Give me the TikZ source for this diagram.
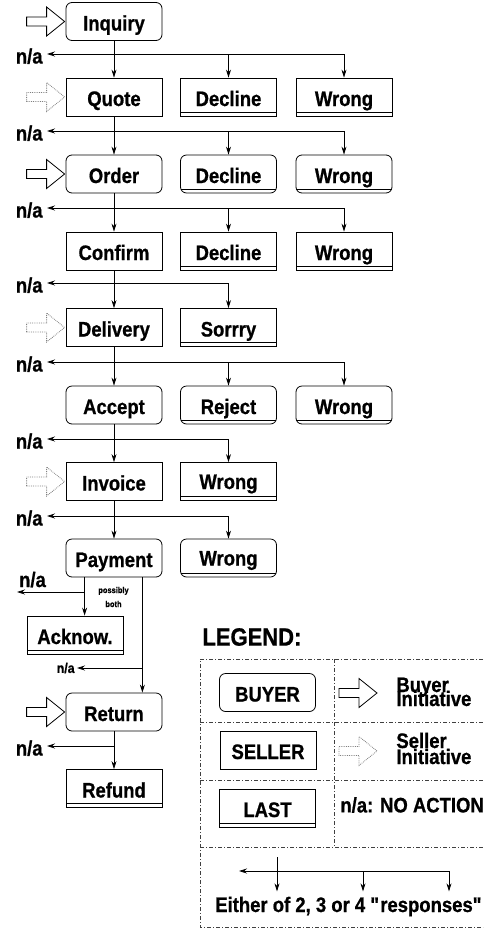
\documentclass[tikz,border=0pt]{standalone}
\usepackage{fontspec}
\setmainfont{Liberation Sans}[FakeStretch=0.88, BoldFeatures={FakeBold=0.8}]
\usetikzlibrary{positioning}
\usetikzlibrary{arrows.meta}
\tikzset{>={Stealth[length=8pt,width=5pt]}}
\tikzset{box/.style={draw, minimum width=96pt, minimum height=38pt, inner sep=0pt, text height=18pt, text depth=0pt, font=\bfseries\fontsize{21}{24}\selectfont}}
\tikzset{buyer/.style={box, rounded corners=6pt}}
\tikzset{seller/.style={box}}
\tikzset{last/.style={path picture={\draw ([yshift=4pt]path picture bounding box.south west) -- ([yshift=4pt]path picture bounding box.south east);}}}
\tikzset{na/.style={font=\bfseries\fontsize{21}{24}\selectfont, anchor=east, text height=19pt, text depth=0pt, inner xsep=4pt, inner ysep=0pt}}
\tikzset{nasmall/.style={font=\bfseries\fontsize{14}{16}\selectfont, anchor=east, inner xsep=2pt, inner ysep=0pt}}
\tikzset{legtext/.style={font=\bfseries\fontsize{21}{24}\selectfont, inner sep=0pt}}
\tikzset{legline/.style={line width=0.6pt, black!75, dash pattern=on 4pt off 2pt on 1pt off 2pt}}
\tikzset{buyerarrow/.pic={\draw (0,-4.5) -- (20,-4.5) -- (20,-14.5) -- (38,0) -- (20,14.5) -- (20,4.5) -- (0,4.5) -- cycle;}}
\tikzset{sellerarrow/.pic={\draw[densely dotted, gray] (0,-4.5) -- (20,-4.5) -- (20,-14.5) -- (38,0) -- (20,14.5) -- (20,4.5) -- (0,4.5) -- cycle;}}

\begin{document}
\begin{tikzpicture}[x=1pt, y=-1pt, line width=0.8pt]
\useasboundingbox (0,0) rectangle (483,930);
\begin{scope}[on grid]

\node[buyer] (inquiry) at (114,21.5) {Inquiry};
\node[na] (na1) at (47,54) {n/a};

\node[seller] (quote) at (114,97) {Quote};
\node[seller,last] (quoteDecline) [right=114.5pt of quote] {Decline};
\node[seller,last] (quoteWrong) [right=115.5pt of quoteDecline] {Wrong};
\node[na] (na2) at (47,131) {n/a};

\node[buyer] (order) at (114,174) {Order};
\node[buyer,last] (orderDecline) [right=114.5pt of order] {Decline};
\node[buyer,last] (orderWrong) [right=115.5pt of orderDecline] {Wrong};
\node[na] (na3) at (47,208) {n/a};

\node[seller] (confirm) at (114,251) {Confirm};
\node[seller,last] (confirmDecline) [right=114.5pt of confirm] {Decline};
\node[seller,last] (confirmWrong) [right=115.5pt of confirmDecline] {Wrong};
\node[na] (na4) at (47,283) {n/a};

\node[seller] (delivery) at (114,327.5) {Delivery};
\node[seller,last] (sorrry) [right=114.5pt of delivery] {Sorrry};
\node[na] (na5) at (47,362) {n/a};

\node[buyer] (accept) at (114,405) {Accept};
\node[buyer,last] (reject) [right=114.5pt of accept] {Reject};
\node[buyer,last] (acceptWrong) [right=115.5pt of reject] {Wrong};
\node[na] (na6) at (47,439) {n/a};

\node[seller] (invoice) at (114,481.5) {Invoice};
\node[seller,last, text depth=3pt] (invoiceWrong) [right=114.5pt of invoice] {Wrong};
\node[na] (na7) at (47,516) {n/a};

\node[buyer] (payment) at (114,558) {Payment};
\node[buyer,last, text depth=3pt] (paymentWrong) [right=114.5pt of payment] {Wrong};
\node[seller,last] (acknow) at (75,635) {Acknow.};
\node[na, anchor=base] (naPay) at (32.5,587) {n/a};
\node[nasmall] (naRet) at (77,668) {n/a};
\node[font=\bfseries\fontsize{8.5}{14}\selectfont, align=center] (both) at (113.5,597) {possibly\\both};

\node[buyer] (return) at (114,712) {Return};
\node[na] (na8) at (47,746) {n/a};
\node[seller,last] (refund) at (114,788.5) {Refund};

% initiative
\pic at ([xshift=-39pt]inquiry.west) {buyerarrow};
\pic at ([xshift=-39pt]quote.west) {sellerarrow};
\pic at ([xshift=-39pt]order.west) {buyerarrow};
\pic at ([xshift=-39pt]delivery.west) {sellerarrow};
\pic at ([xshift=-39pt]invoice.west) {sellerarrow};
\pic at ([xshift=-39pt]return.west) {buyerarrow};

\draw[->] (inquiry) -- (quote);
\draw[->] (na1 -| quoteWrong) -- (na1);
\draw[->] (na1 -| quoteDecline) -- (quoteDecline);
\draw[->] (na1 -| quoteWrong) -- (quoteWrong);

\draw[->] (quote) -- (order);
\draw[->] (na2 -| orderWrong) -- (na2);
\draw[->] (na2 -| orderDecline) -- (orderDecline);
\draw[->] (na2 -| orderWrong) -- (orderWrong);

\draw[->] (order) -- (confirm);
\draw[->] (na3 -| confirmWrong) -- (na3);
\draw[->] (na3 -| confirmDecline) -- (confirmDecline);
\draw[->] (na3 -| confirmWrong) -- (confirmWrong);

\draw[->] (confirm) -- (delivery);
\draw[->] (na4 -| sorrry) -- (na4);
\draw[->] (na4 -| sorrry) -- (sorrry);

\draw[->] (delivery) -- (accept);
\draw[->] (na5 -| acceptWrong) -- (na5);
\draw[->] (na5 -| reject) -- (reject);
\draw[->] (na5 -| acceptWrong) -- (acceptWrong);

\draw[->] (accept) -- (invoice);
\draw[->] (na6 -| invoiceWrong) -- (na6);
\draw[->] (na6 -| invoiceWrong) -- (invoiceWrong);

\draw[->] (invoice) -- (payment);
\draw[->] (na7 -| paymentWrong) -- (na7);
\draw[->] (na7 -| paymentWrong) -- (paymentWrong);

\coordinate (payL) at ([xshift=19pt]payment.south west);
\coordinate (payR) at ([xshift=-20pt]payment.south east);
\coordinate (payNa) at (17,592);
\draw[->] (payL) -- (payL |- acknow.north);
\draw[->] (payNa -| payL) -- (payNa);
\draw[->] (payR) -- (payR |- return.north);
\draw[->] (naRet -| payR) -- (naRet);

\draw[->] (return) -- (refund);
\draw[->] (na8 -| return) -- (na8);

% legend
\node[legtext, anchor=west, font=\bfseries\fontsize{25}{29}\selectfont] (legend) at (202,637) {LEGEND:};
\draw[legline] (483,659) -- (200,659) -- (200,927) -- (483,927);
\draw[legline] (334,659) -- (334,847);
\draw[legline] (200,722) -- (483,722);
\draw[legline] (200,780) -- (483,780);
\draw[legline] (200,847) -- (483,847);

\node[buyer] (legBuyer) at (267.5,692.5) {BUYER};
\node[seller] (legSeller) at (268,750) {SELLER};
\node[seller,last] (legLast) at (267.5,808) {LAST};
\pic at (339,693) {buyerarrow};
\pic at (339,751) {sellerarrow};
\node[legtext, anchor=base west] (buyerLbl) at (396,692) {Buyer};
\node[legtext, anchor=base west] (buyerIni) at (396,706) {Initiative};
\node[legtext, anchor=base west] (sellerLbl) at (396,748) {Seller};
\node[legtext, anchor=base west] (sellerIni) at (396,764) {Initiative};
\node[legtext, anchor=west] (noAction) at (340,805) {n/a: NO ACTION};

\node[legtext, anchor=base, inner ysep=5pt] (either) at (349,912) {Either of 2, 3 or 4 \textquotedbl responses\textquotedbl};
\coordinate (legNa) at (239,871);
\coordinate (legIn) at (277,857);
\coordinate (legMid) at (363,871);
\coordinate (legFork) at (449,871);
\draw[->] (legFork) -- (legNa);
\draw[->] (legIn) -- (legIn |- either.north);
\draw[->] (legMid) -- (legMid |- either.north);
\draw[->] (legFork) -- (legFork |- either.north);

\end{scope}
\end{tikzpicture}
\end{document}
